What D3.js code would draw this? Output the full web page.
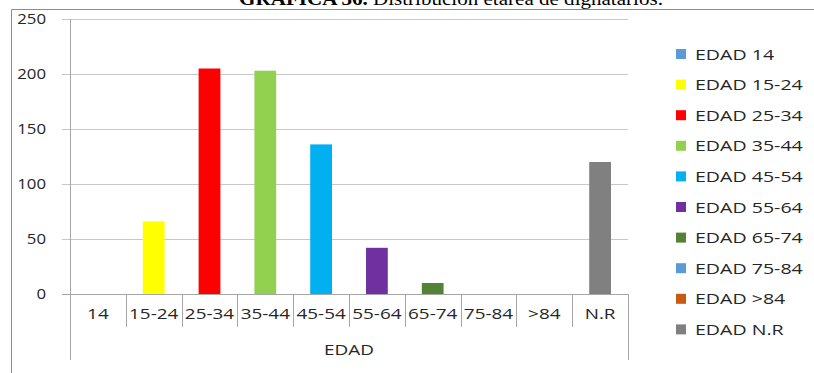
<!DOCTYPE html>
<html><head><meta charset="utf-8">
<script src="https://cdn.jsdelivr.net/npm/d3@7"></script>
<style>body{margin:0;background:#fff}svg{display:block}</style>
</head><body>
<script>
const categories = ["14","15-24","25-34","35-44","45-54","55-64","65-74","75-84",">84","N.R"];
const values = [0,66,205,203,136,42,10,0,0,120];
const seriesNames = ["EDAD 14","EDAD 15-24","EDAD 25-34","EDAD 35-44","EDAD 45-54","EDAD 55-64","EDAD 65-74","EDAD 75-84","EDAD >84","EDAD N.R"];
const colors = ["#5b9bd5","#ffff00","#ff0000","#92d050","#00b0f0","#7030a0","#548235","#5b9bd5","#c55a11","#808080"];
const yTicks = [0,50,100,150,200,250];
const axisTitle = "EDAD";

const W=814,H=373;
const SX=1.35;
const svg=d3.select("body").append("svg").attr("width",W).attr("height",H);
const font="'Open Sans', sans-serif";

function stext(g,x,y,anchor,size,txt,sx){
  return g.append("text").attr("transform",`translate(${x},${y}) scale(${sx||SX},1)`)
    .attr("text-anchor",anchor).attr("font-family",font).attr("font-size",size)
    .attr("fill","#262626").text(txt);
}

// title
const t=svg.append("text").attr("transform","translate(451,5) scale(1.17,1)").attr("text-anchor","middle")
 .attr("font-family","'Liberation Serif', serif").attr("font-size",18).attr("fill","#000");
t.append("tspan").attr("font-weight","bold").text("GRAFICA 36. ");
t.append("tspan").text("Distribución etárea de dignatarios.");

// chart border
svg.append("line").attr("x1",11.5).attr("x2",11.5).attr("y1",9.5).attr("y2",H).attr("stroke","#8c8c8c");
svg.append("line").attr("x1",11.5).attr("x2",W).attr("y1",9.5).attr("y2",9.5).attr("stroke","#8c8c8c");

const x=d3.scaleBand().domain(categories).range([70,628]).padding(0);
const y=d3.scaleLinear().domain([0,250]).range([294,19]);

// gridlines
svg.append("g").selectAll("line").data(yTicks).join("line")
 .attr("x1",62).attr("x2",628).attr("y1",d=>Math.round(y(d))+0.5).attr("y2",d=>Math.round(y(d))+0.5)
 .attr("stroke",d=>d===0?"#a6a6a6":"#c8c8c8").attr("stroke-width",1);

// y labels
const yl=svg.append("g");
yTicks.forEach(d=>stext(yl,46,y(d)+5,"end",14,d,1.2));

// y axis line
svg.append("line").attr("x1",70.5).attr("x2",70.5).attr("y1",19).attr("y2",360).attr("stroke","#a6a6a6");

// bars
const bw=x.bandwidth()*0.39;
svg.append("g").selectAll("rect").data(categories).join("rect")
 .attr("x",(d)=>x(d)+x.bandwidth()/2-bw/2).attr("width",bw)
 .attr("y",(d,i)=>y(values[i])).attr("height",(d,i)=>y(0)-y(values[i]))
 .attr("fill",(d,i)=>colors[i]);

// category dividers
const bounds=categories.map(c=>x(c)).concat([x.range()[1]]);
svg.append("g").selectAll("line").data(bounds).join("line")
 .attr("x1",d=>Math.round(d)+0.5).attr("x2",d=>Math.round(d)+0.5)
 .attr("y1",294).attr("y2",(d,i)=>(i===0||i===bounds.length-1)?360:327)
 .attr("stroke","#a6a6a6");

// x labels
const xl=svg.append("g");
categories.forEach(c=>stext(xl,x(c)+x.bandwidth()/2,319,"middle",14,c));
stext(svg,349,355,"middle",14,axisTitle);

// legend
const lg=svg.append("g").selectAll("g").data(seriesNames).join("g")
 .attr("transform",(d,i)=>`translate(676,${54+i*30.6})`);
lg.append("rect").attr("x",0).attr("y",-5).attr("width",10).attr("height",10).attr("fill",(d,i)=>colors[i]);
lg.each(function(d){ stext(d3.select(this),19,5.5,"start",14.5,d); });
</script>
</body></html>
